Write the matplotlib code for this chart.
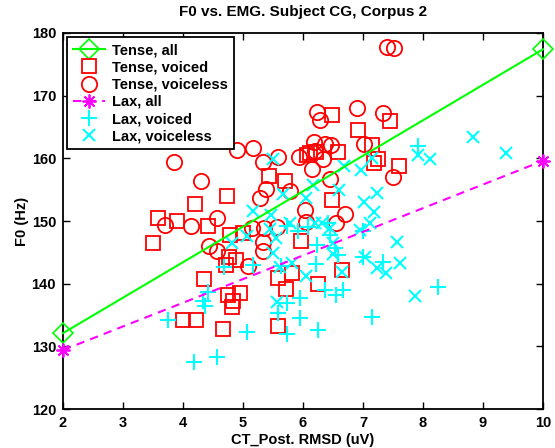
import matplotlib
matplotlib.use("Agg")
import matplotlib.pyplot as plt

plt.rcParams['font.family'] = ['Liberation Sans', 'DejaVu Sans']
plt.rcParams['font.weight'] = 'bold'

title = "F0 vs. EMG. Subject CG, Corpus 2"
xlabel = "CT_Post. RMSD (uV)"
ylabel = "F0 (Hz)"

# Regression lines (endpoints at x = 2 and x = 10)
fit_x = [2, 10]
tense_fit = [132.1, 177.4]
lax_fit = [129.4, 159.6]

tense_voiced_x = [3.50, 3.58, 3.90, 4.20, 4.42, 4.73, 4.78, 5.00, 5.43, 5.70, 6.07, 5.97,
                  4.00, 4.22, 4.35, 4.67, 4.75, 4.95, 4.83, 4.82, 4.72, 4.88, 4.77, 5.58,
                  5.72, 5.82, 5.58, 6.48, 6.65, 6.25, 6.48, 7.45, 6.92, 7.15, 7.25, 7.18,
                  7.60, 6.12, 6.22, 6.58]
tense_voiced_y = [146.5, 150.5, 150.0, 152.7, 149.2, 154.0, 147.8, 148.1, 157.2, 156.4, 160.5, 146.8,
                  134.2, 134.2, 140.7, 132.8, 138.2, 138.5, 137.2, 136.3, 143.0, 143.8, 144.3, 140.9,
                  139.2, 141.7, 133.2, 153.4, 142.2, 140.0, 166.9, 166.0, 164.5, 162.1, 159.9, 159.3,
                  158.8, 160.9, 161.0, 161.0]

tense_voiceless_x = [3.85, 4.90, 5.17, 5.33, 5.58, 5.93, 4.30, 5.38, 5.28, 5.78, 4.57, 3.70,
                     4.13, 5.15, 5.35, 5.57, 5.33, 5.33, 4.43, 4.57, 5.08, 6.03, 6.05, 6.55,
                     6.70, 6.90, 7.33, 6.23, 6.28, 7.02, 6.18, 6.37, 6.47, 6.20, 6.33, 6.15,
                     6.45, 7.50, 7.40, 7.52]
tense_voiceless_y = [159.4, 161.3, 161.6, 159.4, 160.2, 160.2, 156.4, 155.1, 153.7, 154.8, 150.5, 149.4,
                     149.2, 148.9, 148.9, 149.0, 146.6, 145.2, 146.0, 145.2, 142.8, 151.8, 149.8, 149.7,
                     151.1, 168.0, 167.2, 167.4, 166.1, 162.3, 162.6, 162.3, 162.1, 161.2, 159.9, 158.3,
                     156.7, 157.0, 177.8, 177.6]

lax_voiced_x = [5.73, 5.92, 6.08, 3.75, 4.33, 4.37, 4.42, 4.18, 4.57, 5.07, 5.73, 5.58,
                5.73, 5.95, 5.95, 5.17, 4.68, 5.63, 6.22, 6.45, 6.53, 6.58, 6.23, 6.37,
                6.25, 6.55, 6.67, 8.25, 7.15, 7.33, 7.00, 7.00, 7.92, 6.42]
lax_voiced_y = [149.2, 148.4, 149.0, 134.2, 137.2, 136.4, 138.7, 127.5, 128.3, 132.3, 132.0, 135.3,
                136.9, 137.7, 134.5, 143.0, 142.7, 142.8, 143.1, 147.8, 145.7, 144.6, 146.2, 139.0,
                132.6, 138.2, 139.0, 139.5, 134.7, 143.5, 148.4, 144.3, 162.0, 149.7]

lax_voiceless_x = [5.50, 5.67, 5.17, 5.47, 5.07, 4.82, 5.45, 5.55, 5.50, 5.62, 5.82, 5.57,
                   6.05, 6.05, 6.60, 5.78, 6.20, 6.32, 6.45, 6.50, 6.65, 7.57, 7.62, 7.03,
                   7.23, 7.38, 7.87, 6.50, 7.02, 7.18, 7.12, 6.95, 7.23, 7.15, 7.92, 8.12,
                   6.97, 6.68, 8.83, 9.38, 6.17]
lax_voiceless_y = [159.9, 154.3, 151.6, 151.0, 147.6, 146.5, 148.7, 147.3, 144.9, 142.7, 143.3, 137.1,
                   141.2, 153.7, 155.0, 149.7, 149.7, 149.7, 148.9, 144.7, 141.9, 146.6, 143.3, 144.3,
                   142.5, 141.7, 138.0, 146.5, 153.0, 151.4, 149.7, 148.6, 154.5, 160.1, 160.5, 159.9,
                   158.1, 158.8, 163.4, 160.9, 155.7]

xticks = [2, 3, 4, 5, 6, 7, 8, 9, 10]
yticks = [120, 130, 140, 150, 160, 170, 180]

FS = 10.5

fig = plt.figure(figsize=(5.55, 4.48), dpi=100)
ax = fig.add_axes([63/555, 1-409/448, 480/555, 376/448])

ax.plot(fit_x, tense_fit, color=(0, 1, 0), lw=1.5, marker='D', ms=10,
        mfc='none', mec=(0, 1, 0), mew=1.2, label='Tense, all', clip_on=False, zorder=3)
ax.plot(tense_voiced_x, tense_voiced_y, ls='none', marker='s', ms=9.5,
        mfc='none', mec='red', mew=1.3, label='Tense, voiced')
ax.plot(tense_voiceless_x, tense_voiceless_y, ls='none', marker='o', ms=11,
        mfc='none', mec='red', mew=1.3, label='Tense, voiceless')
ax.plot(fit_x, lax_fit, color=(1, 0, 1), lw=1.5, ls=(0, (4, 3)), marker=(8, 2, 0),
        ms=10, mec=(1, 0, 1), mew=1.3, label='Lax, all', clip_on=False, zorder=3)
ax.plot(lax_voiced_x, lax_voiced_y, ls='none', marker='+', ms=11,
        mec=(0, 1, 1), mew=1.5, label='Lax, voiced')
ax.plot(lax_voiceless_x, lax_voiceless_y, ls='none', marker='x', ms=9,
        mec=(0, 1, 1), mew=1.5, label='Lax, voiceless')

ax.set_xlim(2, 10)
ax.set_ylim(120, 180)
ax.set_xticks(xticks)
ax.set_yticks(yticks)
ax.tick_params(direction='in', length=5, width=1, top=True, right=True,
               labelsize=FS, pad=5)
for lab in ax.get_xticklabels() + ax.get_yticklabels():
    lab.set_fontweight('bold')
for sp in ax.spines.values():
    sp.set_linewidth(1.3)

ax.set_title(title, fontsize=11, fontweight='bold', pad=12)
ax.set_xlabel(xlabel, fontsize=FS, fontweight='bold', labelpad=2)
ax.set_ylabel(ylabel, fontsize=FS, fontweight='bold', labelpad=2)

leg = ax.legend(loc='upper left', fancybox=False, framealpha=1, edgecolor='black',
                fontsize=FS, borderaxespad=0.3, handlelength=2.2,
                handletextpad=0.45, labelspacing=0.22, borderpad=0.4)
leg.get_frame().set_linewidth(1.3)
for t in leg.get_texts():
    t.set_fontweight('bold')

fig.savefig('out.png', dpi=100)
